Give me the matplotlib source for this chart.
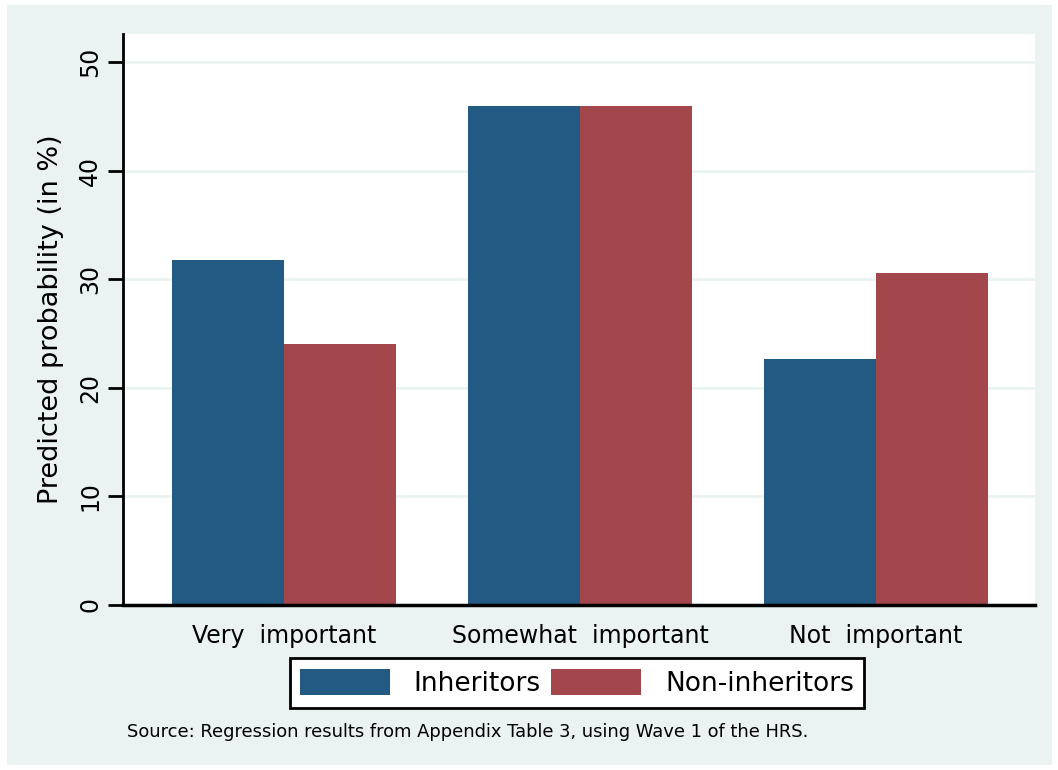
import matplotlib.pyplot as plt
import numpy as np
from matplotlib.patches import Rectangle

categories = ["Very  important", "Somewhat  important", "Not  important"]
inheritors = [31.8, 46.0, 22.7]
non_inheritors = [24.0, 46.0, 30.6]
yticks = [0, 10, 20, 30, 40, 50]

blue = "#225a83"
red = "#a3474c"
bg = "#eaf3f2"

fig = plt.figure(figsize=(10.58, 7.70), dpi=100)
fig.patches.append(Rectangle((7 / 1058, 5 / 770), 1045 / 1058, 760 / 770,
                             transform=fig.transFigure, facecolor=bg,
                             edgecolor="none", zorder=-5))
ax = fig.add_axes([123 / 1058, 1 - 605 / 770, 912 / 1058, 571 / 770])
ax.set_facecolor("white")

x = np.arange(len(categories))
w = 0.378
ax.bar(x - w / 2, inheritors, w, color=blue, label="Inheritors", zorder=3)
ax.bar(x + w / 2, non_inheritors, w, color=red, label="Non-inheritors", zorder=3)

ax.set_xlim(-0.544, 2.537)
ax.set_ylim(0, 52.6)
ax.set_yticks(yticks)
ax.set_yticklabels([str(t) for t in yticks], rotation=90, va="center", fontsize=17)
ax.yaxis.grid(True, color=bg, linewidth=2, zorder=1)
ax.set_axisbelow(True)
ax.set_xticks(x)
ax.set_xticklabels(categories, fontsize=17)
ax.tick_params(axis="x", length=0, pad=14)
ax.tick_params(axis="y", length=11, width=2, pad=4)
for s in ["top", "right"]:
    ax.spines[s].set_visible(False)
ax.spines["left"].set_linewidth(2)
ax.spines["bottom"].set_linewidth(2.5)
ax.spines["bottom"].set_zorder(4)
ax.set_ylabel("Predicted probability (in %)", fontsize=19.5, labelpad=10)

leg = fig.legend(loc="center", bbox_to_anchor=(577 / 1058, 1 - 683 / 770), ncol=2,
                 fontsize=19, frameon=True, fancybox=False, edgecolor="black",
                 framealpha=1, handlelength=3.4, handleheight=1.15, handletextpad=0.9,
                 columnspacing=0.4, borderpad=0.4, borderaxespad=0)
leg.get_frame().set_linewidth(2)

fig.text(127 / 1058, 1 - 732 / 770,
         "Source: Regression results from Appendix Table 3, using Wave 1 of the HRS.",
         fontsize=12.9, va="center", ha="left")

fig.savefig("out.png", dpi=100)
